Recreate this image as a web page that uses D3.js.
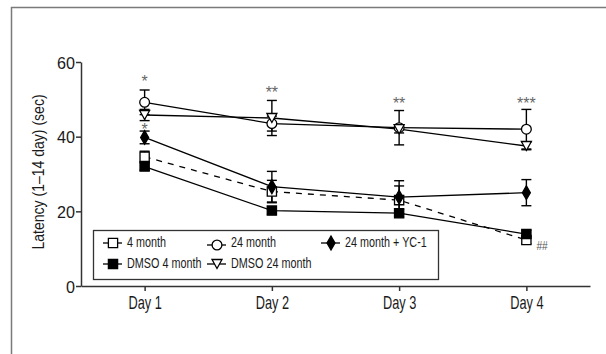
<!DOCTYPE html>
<html>
<head>
<meta charset="utf-8">
<script src="https://cdn.jsdelivr.net/npm/d3@7"></script>
<style>
  body { margin: 0; background: #fff; }
  svg text { font-family: "Liberation Sans", Arial, sans-serif; fill: #1a1a1a; }
</style>
</head>
<body>
<svg width="606" height="354"></svg>
<script>
var days = ["Day 1", "Day 2", "Day 3", "Day 4"]
var yTicks = [0, 20, 40, 60]

// means and error (sem)
var month4 = [34.6, 25.3, 23.0, 12.3]
var month4Err = [1.5, 3.0, 3.8, 1.0]
var dmso4 = [32.0, 20.2, 19.5, 13.9]
var dmso4Err = [1.0, 1.0, 1.0, 1.0]
var month24 = [49.2, 43.5, 42.4, 42.0]
var month24Err = [3.3, 2.0, 4.6, 5.3]
var dmso24 = [45.8, 45.0, 42.0, 37.5]
var dmso24Err = [1.5, 4.7, 1.0, 1.0]
var yc1 = [39.8, 26.6, 23.8, 25.0]
var yc1Err = [1.7, 4.1, 4.4, 3.5]

var stars = ["*", "**", "**", "***"]
var starY = [55.5, 52.5, 49.5, 49.5]

var margins = {top: 62, left: 81, bottom: 286, right: 590}

var svg = d3.select("svg")

// squeeze text to look like the condensed face of the original
var condense = function(sel, factor)
{
    sel.each(function()
    {
        var w = this.getComputedTextLength()
        d3.select(this)
            .attr("textLength", w * factor)
            .attr("lengthAdjust", "spacingAndGlyphs")
    })
}

// outer frame
svg.append("rect")
    .attr("x", 11.5).attr("y", 7.5)
    .attr("width", 700).attr("height", 500)
    .attr("fill", "none")
    .attr("stroke", "#7a7a7a")
    .attr("stroke-width", 1.5)

var xScale = d3.scalePoint()
    .domain(days)
    .range([margins.left, margins.right])
    .padding(0.5)

var yScale = d3.scaleLinear()
    .domain([0, 60])
    .range([margins.bottom, margins.top])

var xAxis = d3.axisBottom(xScale).tickSizeInner(5).tickSizeOuter(0)
var yAxis = d3.axisLeft(yScale).tickValues(yTicks).tickSizeInner(5).tickSizeOuter(0)

var gx = svg.append("g")
    .attr("transform", "translate(0," + margins.bottom + ")")
    .call(xAxis)
gx.selectAll("text").attr("font-size", 18.5).attr("dy", "0.81em").attr("fill", "#1a1a1a")
condense(gx.selectAll("text"), 0.69)

var gy = svg.append("g")
    .attr("transform", "translate(" + margins.left + ",0)")
    .call(yAxis)
gy.selectAll("text").attr("font-size", 17).attr("dy", "0.36em").attr("x", -6).attr("fill", "#1a1a1a")
condense(gy.selectAll("text"), 0.95)

svg.selectAll(".domain, .tick line").attr("stroke", "#333").attr("stroke-width", 1.5)

var ylab = svg.append("text")
    .attr("transform", "translate(44,172) rotate(-90)")
    .attr("text-anchor", "middle")
    .attr("font-size", 16.5)
    .text("Latency (1\u201314 day) (sec)")
condense(ylab, 0.85)

var series = [
    {name: "4 month", vals: month4, err: month4Err, shape: "square", fill: "#fff", dash: "6,6"},
    {name: "DMSO 4 month", vals: dmso4, err: dmso4Err, shape: "square", fill: "#000", dash: null},
    {name: "24 month", vals: month24, err: month24Err, shape: "circle", fill: "#fff", dash: null},
    {name: "DMSO 24 month", vals: dmso24, err: dmso24Err, shape: "triangle", fill: "#fff", dash: null},
    {name: "24 month + YC-1", vals: yc1, err: yc1Err, shape: "diamond", fill: "#000", dash: null}
]

var symbolFor = function(shape)
{
    if(shape == "square") return d3.symbol().type(d3.symbolSquare).size(85)()
    if(shape == "circle") return d3.symbol().type(d3.symbolCircle).size(75)()
    if(shape == "diamond") return d3.symbol().type(d3.symbolDiamond).size(55)()
    // downward triangle
    return "M-5,-4.5L5,-4.5L0,4.5Z"
}

var line = d3.line()
    .x(function(d, i) { return xScale(days[i]) })
    .y(function(d) { return yScale(d) })

// error bars
series.forEach(function(s)
{
    var g = svg.append("g")
    s.vals.forEach(function(v, i)
    {
        var x = xScale(days[i])
        var y1 = yScale(v + s.err[i]), y2 = yScale(v - s.err[i])
        g.append("line").attr("x1", x).attr("x2", x).attr("y1", y1).attr("y2", y2)
            .attr("stroke", "#000").attr("stroke-width", 1.4)
        ;[y1, y2].forEach(function(yy)
        {
            g.append("line").attr("x1", x - 5).attr("x2", x + 5).attr("y1", yy).attr("y2", yy)
                .attr("stroke", "#000").attr("stroke-width", 1.4)
        })
    })
})

// lines
series.forEach(function(s)
{
    svg.append("path")
        .datum(s.vals)
        .attr("d", line)
        .attr("fill", "none")
        .attr("stroke", "#000")
        .attr("stroke-width", 1.3)
        .attr("stroke-dasharray", s.dash)
})

// markers
series.forEach(function(s)
{
    svg.append("g").selectAll("path")
        .data(s.vals)
        .enter()
        .append("path")
        .attr("d", symbolFor(s.shape))
        .attr("transform", function(d, i) { return "translate(" + xScale(days[i]) + "," + yScale(d) + ")" })
        .attr("fill", s.fill)
        .attr("stroke", "#000")
        .attr("stroke-width", 1.3)
})

// significance marks
svg.selectAll(".star")
    .data(stars)
    .enter()
    .append("text")
    .attr("class", "star")
    .attr("x", function(d, i) { return xScale(days[i]) })
    .attr("y", function(d, i) { return yScale(starY[i]) + 8 })
    .attr("text-anchor", "middle")
    .attr("font-size", 16)
    .style("fill", "#666")
    .text(function(d) { return d })

svg.append("text")
    .attr("x", xScale("Day 1")).attr("y", yScale(42.6) + 8)
    .attr("text-anchor", "middle").attr("font-size", 16)
    .style("fill", "#666")
    .text("*")

var hash = svg.append("text")
    .attr("x", xScale("Day 4") + 10).attr("y", yScale(10.8) + 4)
    .attr("font-size", 12)
    .style("fill", "#555")
    .text("##")
condense(hash, 0.85)

// legend
var legend = svg.append("g")
legend.append("rect")
    .attr("x", 93.5).attr("y", 230.5)
    .attr("width", 345).attr("height", 49)
    .attr("fill", "#fff")
    .attr("stroke", "#333")
    .attr("stroke-width", 1.3)

var legendPos = [
    {s: series[0], x: 103, y: 243},
    {s: series[2], x: 207, y: 245},
    {s: series[4], x: 321, y: 243},
    {s: series[1], x: 103, y: 264},
    {s: series[3], x: 207, y: 264}
]

legendPos.forEach(function(p)
{
    legend.append("line")
        .attr("x1", p.x).attr("x2", p.x + 19)
        .attr("y1", p.y).attr("y2", p.y)
        .attr("stroke", "#000").attr("stroke-width", 1.3)
    legend.append("path")
        .attr("d", symbolFor(p.s.shape))
        .attr("transform", "translate(" + (p.x + 10) + "," + p.y + ")")
        .attr("fill", p.s.fill)
        .attr("stroke", "#000")
        .attr("stroke-width", 1.3)
    var t = legend.append("text")
        .attr("x", p.x + 24).attr("y", (p.y == 245 ? 243 : p.y) - 1)
        .attr("dy", "0.35em")
        .attr("font-size", 15)
        .text(p.s.name)
    condense(t, 0.72)
})
</script>
</body>
</html>
